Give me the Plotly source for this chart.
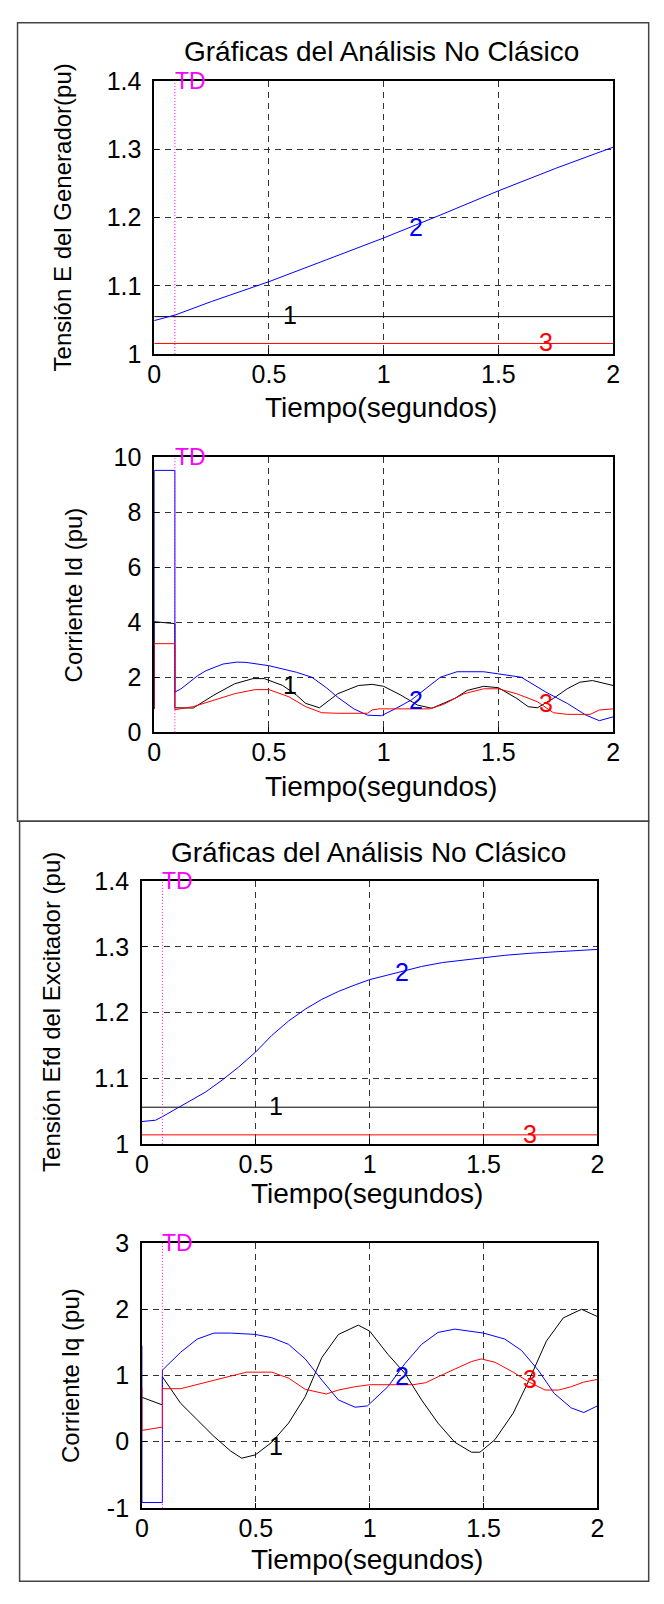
import plotly.graph_objects as go

# Page is 664x1604; the browser's default 8px body margin surrounds the figure,
# so the figure itself is 648x1588 and reference pixel (X, Y) maps to (X-8, Y-8).
PAGE_W, PAGE_H = 664, 1604
OX, OY = 8, 8
W, H = PAGE_W - 2 * OX, PAGE_H - 2 * OY
FONT = "Liberation Sans, Arial, sans-serif"

# ---------------- data ----------------
TD = 0.09
t_const = [0, 2]

# Panel 1: Tensión E del Generador
E_1 = [1.0548, 1.0548]
E_3 = [1.0155, 1.0155]
t_E_2 = [0, 0.09, 0.25, 0.5, 0.75, 1.0, 1.25, 1.5, 1.75, 2.0]
E_2 = [1.049, 1.057, 1.077, 1.106, 1.138, 1.170, 1.204, 1.239, 1.272, 1.303]

# Panel 2: Corriente Id
t_Id_1 = [0, 0, 0.05, 0.09, 0.09, 0.17, 0.26, 0.35, 0.43, 0.48, 0.56, 0.62, 0.66, 0.72,
          0.80, 0.89, 0.95, 1.0, 1.075, 1.147, 1.21, 1.31, 1.364, 1.436, 1.5, 1.58,
          1.63, 1.67, 1.74, 1.8, 1.855, 1.91, 2.0]
Id_1 = [0.85, 4.02, 3.98, 3.95, 0.89, 0.88, 1.35, 1.76, 1.95, 1.95, 1.70, 1.35, 1.05, 0.89,
        1.40, 1.70, 1.74, 1.67, 1.35, 0.99, 0.87, 1.23, 1.52, 1.67, 1.62, 1.23,
        0.93, 0.89, 1.23, 1.58, 1.82, 1.88, 1.70]
t_Id_2 = [0, 0, 0.09, 0.09, 0.117, 0.19, 0.226, 0.30, 0.36, 0.40, 0.5, 0.62, 0.687, 0.75,
          0.80, 0.87, 0.93, 0.99, 1.05, 1.12, 1.247, 1.32, 1.436, 1.5, 1.6, 1.707, 1.8,
          1.88, 1.94, 2.0]
Id_2 = [0.85, 9.52, 9.52, 1.46, 1.58, 2.06, 2.24, 2.48, 2.55, 2.54, 2.42, 2.18, 2.0, 1.62,
        1.27, 0.85, 0.62, 0.60, 0.85, 1.17, 2.0, 2.2, 2.2, 2.12, 2.0, 1.46, 1.05,
        0.63, 0.42, 0.56]
t_Id_3 = [0, 0, 0.09, 0.09, 0.17, 0.26, 0.35, 0.44, 0.5, 0.587, 0.66, 0.73, 0.80, 0.93,
          0.95, 0.98, 1.2, 1.26, 1.35, 1.436, 1.5, 1.58, 1.67, 1.74, 1.8, 1.9, 1.94, 2.0]
Id_3 = [0.85, 3.22, 3.22, 0.82, 0.93, 1.17, 1.40, 1.55, 1.55, 1.29, 0.93, 0.71, 0.69, 0.69,
        0.81, 0.85, 0.85, 1.01, 1.40, 1.58, 1.58, 1.40, 1.11, 0.71, 0.65, 0.65, 0.81, 0.85]

# Panel 3: Tensión Efd del Excitador
Efd_1 = [1.0558, 1.0558]
Efd_3 = [1.0137, 1.0137]
t_Efd_2 = [0, 0.06, 0.088, 0.133, 0.206, 0.28, 0.352, 0.425, 0.5, 0.57, 0.644, 0.717,
           0.79, 0.863, 0.936, 1.0, 1.08, 1.155, 1.228, 1.32, 1.41, 1.5, 1.593, 1.70,
           1.81, 1.92, 2.0]
Efd_2 = [1.034, 1.036, 1.041, 1.050, 1.064, 1.079, 1.097, 1.117, 1.140, 1.165, 1.187, 1.205,
         1.220, 1.232, 1.242, 1.250, 1.257, 1.264, 1.270, 1.276, 1.280, 1.284, 1.287, 1.290,
         1.292, 1.295, 1.296]

# Panel 4: Corriente Iq
t_Iq_1 = [0, 0.09, 0.09, 0.17, 0.243, 0.316, 0.389, 0.438, 0.498, 0.57, 0.644, 0.717, 0.79,
          0.863, 0.95, 1.0, 1.08, 1.155, 1.228, 1.30, 1.374, 1.447, 1.484, 1.55, 1.63,
          1.70, 1.776, 1.85, 1.93, 2.0]
Iq_1 = [0.67, 0.555, 0.98, 0.58, 0.33, 0.08, -0.14, -0.25, -0.20, -0.01, 0.28, 0.68, 1.27,
        1.62, 1.76, 1.67, 1.32, 1.03, 0.63, 0.28, -0.01, -0.16, -0.16, 0.03, 0.43,
        0.93, 1.52, 1.87, 2.0, 1.89]
t_Iq_2 = [0, 0, 0.09, 0.09, 0.17, 0.243, 0.316, 0.389, 0.498, 0.57, 0.644, 0.717, 0.79,
          0.863, 0.936, 0.99, 1.08, 1.155, 1.228, 1.30, 1.374, 1.447, 1.5, 1.593, 1.666,
          1.74, 1.81, 1.885, 1.94, 2.0]
Iq_2 = [1.45, -0.92, -0.92, 1.08, 1.35, 1.55, 1.64, 1.64, 1.62, 1.57, 1.47, 1.25, 0.93,
        0.63, 0.52, 0.54, 0.83, 1.18, 1.47, 1.65, 1.70, 1.67, 1.64, 1.55, 1.38,
        1.08, 0.73, 0.51, 0.44, 0.54]
t_Iq_3 = [0, 0, 0.09, 0.09, 0.17, 0.243, 0.316, 0.389, 0.46, 0.57, 0.644, 0.717, 0.81,
          0.863, 0.936, 1.0, 1.19, 1.246, 1.30, 1.374, 1.447, 1.49, 1.55, 1.63, 1.70,
          1.77, 1.83, 1.885, 1.94, 2.0]
Iq_3 = [0.82, 0.17, 0.22, 0.80, 0.80, 0.86, 0.93, 0.99, 1.05, 1.05, 0.96, 0.79, 0.72,
        0.78, 0.83, 0.86, 0.86, 0.89, 0.98, 1.10, 1.21, 1.25, 1.20, 1.05, 0.90,
        0.78, 0.78, 0.83, 0.90, 0.94]

# curve label positions (x, y) per panel: labels "1", "2", "3"
lab_x = [0.56, 1.11, 1.675]
lab_y_E = [1.057, 1.186, 1.017]
lab_y_Id = [1.70, 1.17, 1.08]
lab_y_Efd = [1.057, 1.262, 1.015]
lab_y_Iq = [-0.06, 0.99, 0.95]

x_ticks = [0, 0.5, 1, 1.5, 2]
x_ticktext = ["0", "0.5", "1", "1.5", "2"]
yE_ticks = [1, 1.1, 1.2, 1.3, 1.4]
yE_ticktext = ["1", "1.1", "1.2", "1.3", "1.4"]
yId_ticks = [0, 2, 4, 6, 8, 10]
yId_ticktext = ["0", "2", "4", "6", "8", "10"]
yIq_ticks = [-1, 0, 1, 2, 3]
yIq_ticktext = ["-1", "0", "1", "2", "3"]

title_text = "Gráficas del Análisis No Clásico"
x_title = "Tiempo(segundos)"
y_titles = ["Tensión E del Generador(pu)", "Corriente Id (pu)",
            "Tensión Efd del Excitador (pu)", "Corriente Iq (pu)"]

COL = ["black", "#0000ff", "#ff0000"]
MAG = "#ff00ff"

# ---------------- layout geometry (page pixels -> paper fractions) ----------------
def px(x):
    return min(max((x - OX) / W, 0.0005), 0.9995)

def py(y):
    return min(max(1 - (y - OY) / H, 0.0005), 0.9995)

panels = [
    dict(l=150.3, r=619.3, t=68, b=346),
    dict(l=150.3, r=619.3, t=451, b=731),
    dict(l=137.7, r=603.3, t=882.5, b=1150),
    dict(l=137.7, r=603.3, t=1251, b=1520.5),
]

fig = go.Figure()

series = [
    [(t_const, E_1), (t_E_2, E_2), (t_const, E_3)],
    [(t_Id_1, Id_1), (t_Id_2, Id_2), (t_Id_3, Id_3)],
    [(t_const, Efd_1), (t_Efd_2, Efd_2), (t_const, Efd_3)],
    [(t_Iq_1, Iq_1), (t_Iq_2, Iq_2), (t_Iq_3, Iq_3)],
]
label_ys = [lab_y_E, lab_y_Id, lab_y_Efd, lab_y_Iq]
yranges = [[1, 1.4], [0, 10], [1, 1.4], [-1, 3]]
yticks = [(yE_ticks, yE_ticktext), (yId_ticks, yId_ticktext),
          (yE_ticks, yE_ticktext), (yIq_ticks, yIq_ticktext)]

for i, s in enumerate(series):
    xa = "x" if i == 0 else f"x{i+1}"
    ya = "y" if i == 0 else f"y{i+1}"
    for j, (tx, vy) in enumerate(s):
        fig.add_trace(go.Scatter(x=tx, y=vy, mode="lines",
                                 line=dict(color=COL[j], width=1),
                                 xaxis=xa, yaxis=ya, showlegend=False,
                                 hoverinfo="skip"))

axis_common = dict(showline=True, mirror=True, linecolor="black", linewidth=1.6,
                   ticks="inside", ticklen=5, tickcolor="black",
                   showgrid=True, gridcolor="#333333", griddash="6px,5px", gridwidth=1,
                   zeroline=False,
                   tickfont=dict(family=FONT, size=25, color="black"))

layout = dict(width=W, height=H, margin=dict(l=0, r=0, t=0, b=0),
              paper_bgcolor="white", plot_bgcolor="white", showlegend=False)

annotations = []
shapes = []

for i, p in enumerate(panels):
    xk = "xaxis" if i == 0 else f"xaxis{i+1}"
    yk = "yaxis" if i == 0 else f"yaxis{i+1}"
    xa = "x" if i == 0 else f"x{i+1}"
    ya = "y" if i == 0 else f"y{i+1}"
    layout[xk] = dict(axis_common, domain=[px(p["l"]), px(p["r"])], range=[0, 2],
                      tickvals=x_ticks, ticktext=x_ticktext, anchor=ya,
                      ticklabelstandoff=-3)
    layout[yk] = dict(axis_common, domain=[py(p["b"]), py(p["t"])], range=yranges[i],
                      tickvals=yticks[i][0], ticktext=yticks[i][1], anchor=xa,
                      ticklabelstandoff=6)
    # TD line
    shapes.append(dict(type="line", xref=xa, yref=f"{ya} domain", x0=TD, x1=TD, y0=0, y1=1,
                       line=dict(color=MAG, width=1, dash="1px,2px")))
    annotations.append(dict(xref=xa, yref=f"{ya} domain", x=TD, y=1.0, text="TD",
                            showarrow=False, xanchor="left", yanchor="middle", xshift=-2,
                            font=dict(family=FONT, size=23, color=MAG)))
    # curve labels
    for j in range(3):
        annotations.append(dict(xref=xa, yref=ya, x=lab_x[j], y=label_ys[i][j],
                                text=str(j + 1), showarrow=False, xanchor="left",
                                yanchor="middle", xshift=-2,
                                font=dict(family=FONT, size=25, color=COL[j])))

# axis titles (positions in page pixels)
xt_pos = [(382, 400), (382, 786), (368, 1201), (368, 1573)]
yt_pos = [(57, 207), (68, 591), (45.5, 1016), (64.5, 1386)]
for i in range(4):
    annotations.append(dict(xref="paper", yref="paper", x=px(xt_pos[i][0]), y=py(xt_pos[i][1]),
                            text=x_title, showarrow=False, xanchor="center", yanchor="middle",
                            font=dict(family=FONT, size=28, color="black")))
    annotations.append(dict(xref="paper", yref="paper", x=px(yt_pos[i][0]), y=py(yt_pos[i][1]),
                            text=y_titles[i], showarrow=False, textangle=-90,
                            xanchor="center", yanchor="middle",
                            font=dict(family=FONT, size=24, color="black")))

# figure titles
for (cx, cy) in [(383, 38), (369, 853)]:
    annotations.append(dict(xref="paper", yref="paper", x=px(cx), y=py(cy), text=title_text,
                            showarrow=False, xanchor="center", yanchor="middle",
                            font=dict(family=FONT, size=28, color="black")))

# outer frames
shapes.append(dict(type="rect", xref="paper", yref="paper", x0=px(10.6), x1=px(662),
                   y0=py(821.5), y1=py(5), line=dict(color="#444444", width=1.5)))
shapes.append(dict(type="rect", xref="paper", yref="paper", x0=px(12.7), x1=px(662),
                   y0=py(1603), y1=py(821.5), line=dict(color="#444444", width=1.5)))

layout["annotations"] = annotations
layout["shapes"] = shapes
fig.update_layout(**layout)
fig.write_html("out.html", config={"displayModeBar": False})
